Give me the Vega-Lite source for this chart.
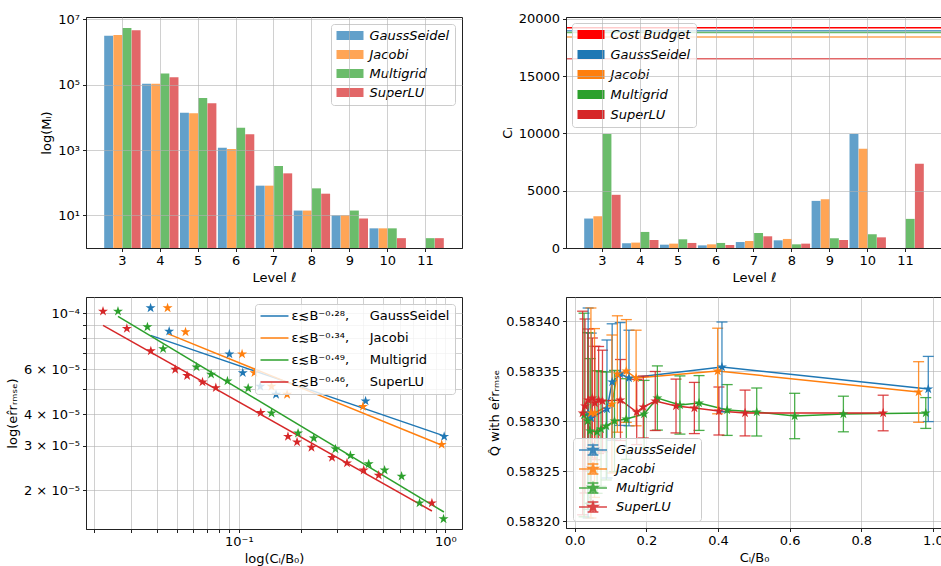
{
  "$schema": "https://vega.github.io/schema/vega-lite/v6.json",
  "padding": {"left": 5, "top": 12, "right": 0, "bottom": 0},
  "columns": 2,
  "spacing": {"row": 49, "column": 104},
  "bounds": "flush",
  "resolve": {"scale": {"color": "independent"}, "legend": {"color": "independent"}},
  "datasets": {
    "levels": [
      {"level": 3, "method": "GaussSeidel", "samples": 3160000, "cost": 2570},
      {"level": 3, "method": "Jacobi", "samples": 3300000, "cost": 2770},
      {"level": 3, "method": "Multigrid", "samples": 5400000, "cost": 9940},
      {"level": 3, "method": "SuperLU", "samples": 4600000, "cost": 4640},
      {"level": 4, "method": "GaussSeidel", "samples": 107000, "cost": 410},
      {"level": 4, "method": "Jacobi", "samples": 107000, "cost": 470},
      {"level": 4, "method": "Multigrid", "samples": 220000, "cost": 1400},
      {"level": 4, "method": "SuperLU", "samples": 168000, "cost": 700},
      {"level": 5, "method": "GaussSeidel", "samples": 13900, "cost": 290},
      {"level": 5, "method": "Jacobi", "samples": 13300, "cost": 380},
      {"level": 5, "method": "Multigrid", "samples": 39000, "cost": 760},
      {"level": 5, "method": "SuperLU", "samples": 27000, "cost": 440},
      {"level": 6, "method": "GaussSeidel", "samples": 1170, "cost": 230},
      {"level": 6, "method": "Jacobi", "samples": 1070, "cost": 320},
      {"level": 6, "method": "Multigrid", "samples": 4830, "cost": 440},
      {"level": 6, "method": "SuperLU", "samples": 3020, "cost": 260},
      {"level": 7, "method": "GaussSeidel", "samples": 81, "cost": 520},
      {"level": 7, "method": "Jacobi", "samples": 81, "cost": 610},
      {"level": 7, "method": "Multigrid", "samples": 324, "cost": 1310},
      {"level": 7, "method": "SuperLU", "samples": 193, "cost": 1020},
      {"level": 8, "method": "GaussSeidel", "samples": 14, "cost": 670},
      {"level": 8, "method": "Jacobi", "samples": 14, "cost": 790},
      {"level": 8, "method": "Multigrid", "samples": 67, "cost": 320},
      {"level": 8, "method": "SuperLU", "samples": 46, "cost": 380},
      {"level": 9, "method": "GaussSeidel", "samples": 10, "cost": 4110},
      {"level": 9, "method": "Jacobi", "samples": 10, "cost": 4260},
      {"level": 9, "method": "Multigrid", "samples": 14, "cost": 850},
      {"level": 9, "method": "SuperLU", "samples": 8, "cost": 700},
      {"level": 10, "method": "GaussSeidel", "samples": 4, "cost": 9940},
      {"level": 10, "method": "Jacobi", "samples": 4, "cost": 8660},
      {"level": 10, "method": "Multigrid", "samples": 4, "cost": 1200},
      {"level": 10, "method": "SuperLU", "samples": 2, "cost": 930},
      {"level": 11, "method": "Multigrid", "samples": 2, "cost": 2540},
      {"level": 11, "method": "SuperLU", "samples": 2, "cost": 7350}
    ],
    "totals": [
      {"method": "Cost Budget", "total": 19210},
      {"method": "GaussSeidel", "total": 18950},
      {"method": "Multigrid", "total": 18800},
      {"method": "Jacobi", "total": 18400},
      {"method": "SuperLU", "total": 16500}
    ],
    "runs": [
      {"method": "GaussSeidel", "cost": 0.0374, "err": 0.000105, "q": 0.583308},
      {"method": "GaussSeidel", "cost": 0.046, "err": 0.0000849, "q": 0.583303},
      {"method": "GaussSeidel", "cost": 0.09, "err": 0.000069, "q": 0.583312},
      {"method": "GaussSeidel", "cost": 0.1045, "err": 0.0000582, "q": 0.583339},
      {"method": "GaussSeidel", "cost": 0.127, "err": 0.0000514, "q": 0.583347},
      {"method": "GaussSeidel", "cost": 0.1514, "err": 0.0000478, "q": 0.583343},
      {"method": "GaussSeidel", "cost": 0.411, "err": 0.000045, "q": 0.583354},
      {"method": "GaussSeidel", "cost": 0.987, "err": 0.0000326, "q": 0.583332},
      {"method": "Jacobi", "cost": 0.0452, "err": 0.000105, "q": 0.583308},
      {"method": "Jacobi", "cost": 0.0552, "err": 0.0000844, "q": 0.583308},
      {"method": "Jacobi", "cost": 0.1037, "err": 0.000069, "q": 0.583317},
      {"method": "Jacobi", "cost": 0.119, "err": 0.0000582, "q": 0.583347},
      {"method": "Jacobi", "cost": 0.144, "err": 0.0000514, "q": 0.58335},
      {"method": "Jacobi", "cost": 0.1713, "err": 0.0000478, "q": 0.583343},
      {"method": "Jacobi", "cost": 0.399, "err": 0.0000428, "q": 0.58335},
      {"method": "Jacobi", "cost": 0.96, "err": 0.0000303, "q": 0.583329},
      {"method": "Multigrid", "cost": 0.026, "err": 0.0001018, "q": 0.583306},
      {"method": "Multigrid", "cost": 0.0361, "err": 0.0000883, "q": 0.5833},
      {"method": "Multigrid", "cost": 0.043, "err": 0.0000724, "q": 0.58329},
      {"method": "Multigrid", "cost": 0.0624, "err": 0.0000613, "q": 0.583289},
      {"method": "Multigrid", "cost": 0.0734, "err": 0.0000574, "q": 0.583292},
      {"method": "Multigrid", "cost": 0.0881, "err": 0.000054, "q": 0.583295},
      {"method": "Multigrid", "cost": 0.111, "err": 0.0000506, "q": 0.5833},
      {"method": "Multigrid", "cost": 0.144, "err": 0.0000403, "q": 0.583302},
      {"method": "Multigrid", "cost": 0.1936, "err": 0.0000336, "q": 0.583307},
      {"method": "Multigrid", "cost": 0.2307, "err": 0.0000321, "q": 0.583323},
      {"method": "Multigrid", "cost": 0.2937, "err": 0.0000291, "q": 0.583316},
      {"method": "Multigrid", "cost": 0.347, "err": 0.0000274, "q": 0.583318},
      {"method": "Multigrid", "cost": 0.4256, "err": 0.0000254, "q": 0.583311},
      {"method": "Multigrid", "cost": 0.508, "err": 0.000024, "q": 0.583309},
      {"method": "Multigrid", "cost": 0.614, "err": 0.0000227, "q": 0.583305},
      {"method": "Multigrid", "cost": 0.75, "err": 0.0000178, "q": 0.583307},
      {"method": "Multigrid", "cost": 0.98, "err": 0.0000154, "q": 0.583308},
      {"method": "SuperLU", "cost": 0.022, "err": 0.0001018, "q": 0.583308},
      {"method": "SuperLU", "cost": 0.0287, "err": 0.000087, "q": 0.583315},
      {"method": "SuperLU", "cost": 0.0375, "err": 0.000071, "q": 0.583321},
      {"method": "SuperLU", "cost": 0.0492, "err": 0.00006, "q": 0.583323},
      {"method": "SuperLU", "cost": 0.0562, "err": 0.0000567, "q": 0.583318},
      {"method": "SuperLU", "cost": 0.0667, "err": 0.0000535, "q": 0.583321},
      {"method": "SuperLU", "cost": 0.0774, "err": 0.0000508, "q": 0.58332},
      {"method": "SuperLU", "cost": 0.1277, "err": 0.0000405, "q": 0.583321},
      {"method": "SuperLU", "cost": 0.173, "err": 0.0000326, "q": 0.583309},
      {"method": "SuperLU", "cost": 0.1914, "err": 0.000031, "q": 0.583314},
      {"method": "SuperLU", "cost": 0.2248, "err": 0.0000295, "q": 0.58332},
      {"method": "SuperLU", "cost": 0.2827, "err": 0.0000269, "q": 0.583315},
      {"method": "SuperLU", "cost": 0.334, "err": 0.0000256, "q": 0.583313},
      {"method": "SuperLU", "cost": 0.4025, "err": 0.000024, "q": 0.58331},
      {"method": "SuperLU", "cost": 0.4755, "err": 0.0000229, "q": 0.583308},
      {"method": "SuperLU", "cost": 0.861, "err": 0.0000178, "q": 0.583308}
    ],
    "fits": [
      {"method": "GaussSeidel", "cost": 0.0374, "err": 0.0000818},
      {"method": "GaussSeidel", "cost": 0.993, "err": 0.0000327},
      {"method": "Jacobi", "cost": 0.0452, "err": 0.0000831},
      {"method": "Jacobi", "cost": 0.963, "err": 0.0000301},
      {"method": "Multigrid", "cost": 0.026, "err": 0.0000973},
      {"method": "Multigrid", "cost": 0.984, "err": 0.0000164},
      {"method": "SuperLU", "cost": 0.022, "err": 0.0000896},
      {"method": "SuperLU", "cost": 0.861, "err": 0.00001655}
    ]
  },
  "concat": [
    {
      "width": 376,
      "height": 231,
      "data": {"name": "levels"},
      "mark": {"type": "bar", "opacity": 0.7},
      "encoding": {
        "x": {
          "field": "level", "type": "ordinal",
          "scale": {"paddingInner": 0.04, "paddingOuter": 0.48},
          "axis": {"title": "Level ℓ", "labelAngle": 0, "grid": true, "bandPosition": 0.5, "zindex": 1}
        },
        "xOffset": {"field": "method", "type": "nominal", "scale": {"paddingInner": 0.03}},
        "y": {
          "field": "samples", "type": "quantitative",
          "scale": {"type": "log", "domain": [1, 11800000], "nice": false},
          "axis": {
            "title": "log(Mₗ)", "zindex": 1,
            "values": [10, 1000, 100000, 10000000],
            "labelExpr": "datum.value == 10 ? '10¹' : datum.value == 1000 ? '10³' : datum.value == 100000 ? '10⁵' : '10⁷'"
          }
        },
        "y2": {"datum": 1},
        "color": {
          "field": "method", "type": "nominal",
          "scale": {"domain": ["GaussSeidel", "Jacobi", "Multigrid", "SuperLU"], "range": ["#1f77b4", "#ff7f0e", "#2ca02c", "#d62728"]},
          "legend": {
            "title": null, "orient": "top-right", "offset": 7, "padding": 5,
            "symbolType": "M-2.25,-0.75H2.25V0.75H-2.25Z", "symbolSize": 144, "symbolOpacity": 0.7,
            "symbolStrokeWidth": 0, "symbolOffset": 7.5,
            "labelFontStyle": "italic", "rowPadding": 5, "labelOffset": 13
          }
        }
      }
    },
    {
      "width": 376,
      "height": 231,
      "layer": [
        {
          "data": {"name": "levels"},
          "mark": {"type": "bar", "opacity": 0.7},
          "encoding": {
            "x": {
              "field": "level", "type": "ordinal",
              "scale": {"paddingInner": 0.04, "paddingOuter": 0.48},
              "axis": {"title": "Level ℓ", "labelAngle": 0, "grid": true, "bandPosition": 0.5, "zindex": 1}
            },
            "xOffset": {"field": "method", "type": "nominal", "scale": {"paddingInner": 0.03}},
            "y": {
              "field": "cost", "type": "quantitative",
              "scale": {"domain": [0, 20150], "nice": false},
              "axis": {"title": "Cₗ", "values": [0, 5000, 10000, 15000, 20000], "format": "d", "zindex": 1}
            },
            "color": {
              "field": "method", "type": "nominal",
              "scale": {"domain": ["Cost Budget", "GaussSeidel", "Jacobi", "Multigrid", "SuperLU"], "range": ["#ff0000", "#1f77b4", "#ff7f0e", "#2ca02c", "#d62728"]},
              "legend": {
                "title": null, "orient": "top-left", "offset": 6, "padding": 5,
                "symbolType": "M-2.25,-0.75H2.25V0.75H-2.25Z", "symbolSize": 144, "symbolOffset": 7.5,
                "symbolOpacity": 0.7, "symbolStrokeWidth": 0,
                "labelFontStyle": "italic", "rowPadding": 6, "labelOffset": 13
              }
            }
          }
        },
        {
          "data": {"name": "totals"},
          "mark": {"type": "rule", "strokeWidth": 1.5},
          "encoding": {
            "y": {"field": "total", "type": "quantitative", "axis": {"title": "Cₗ"}},
            "color": {"field": "method", "type": "nominal"},
            "opacity": {"condition": {"test": "datum.method === 'Cost Budget'", "value": 1}, "value": 0.7}
          }
        }
      ]
    },
    {
      "width": 376,
      "height": 232,
      "layer": [
        {
          "data": {"name": "fits"},
          "mark": {"type": "line", "strokeWidth": 1.5, "clip": true},
          "encoding": {
            "x": {
              "field": "cost", "type": "quantitative",
              "scale": {"type": "log", "domain": [0.0182, 1.204], "nice": false},
              "axis": {
                "title": "log(Cₗ/B₀)", "grid": true,
                "values": [0.02, 0.03, 0.04, 0.05, 0.06, 0.07, 0.08, 0.09, 0.1, 0.2, 0.3, 0.4, 0.5, 0.6, 0.7, 0.8, 0.9, 1],
                "labelExpr": "datum.value == 0.1 ? '10⁻¹' : datum.value == 1 ? '10⁰' : ''"
              }
            },
            "y": {
              "field": "err", "type": "quantitative",
              "scale": {"type": "log", "domain": [0.00001405, 0.000116], "nice": false},
              "axis": {
                "title": "log(er̂rᵣₘₛₑ)", "grid": true,
                "values": [0.00002, 0.00003, 0.00004, 0.00005, 0.00006, 0.00007, 0.00008, 0.00009, 0.0001],
                "labelExpr": "datum.value == 0.0001 ? '10⁻⁴' : datum.value == 0.00006 ? '6 × 10⁻⁵' : datum.value == 0.00004 ? '4 × 10⁻⁵' : datum.value == 0.00003 ? '3 × 10⁻⁵' : datum.value == 0.00002 ? '2 × 10⁻⁵' : ''"
              }
            },
            "color": {
              "field": "method", "type": "nominal",
              "scale": {"domain": ["GaussSeidel", "Jacobi", "Multigrid", "SuperLU"], "range": ["#1f77b4", "#ff7f0e", "#2ca02c", "#d62728"]},
              "legend": {
                "title": null, "orient": "top-right", "offset": 7, "padding": 5,
                "symbolType": "M-2.33,0H2.33", "symbolSize": 144, "symbolStrokeWidth": 1.5, "symbolOffset": 7.5,
                "rowPadding": 8, "labelOffset": 10,
                "labelExpr": "datum.label == 'GaussSeidel' ? 'ε≲B⁻⁰·²⁸,\u00a0\u00a0\u00a0\u00a0\u00a0GaussSeidel' : datum.label == 'Jacobi' ? 'ε≲B⁻⁰·³⁴,\u00a0\u00a0\u00a0\u00a0\u00a0Jacobi' : datum.label == 'Multigrid' ? 'ε≲B⁻⁰·⁴⁹,\u00a0\u00a0\u00a0\u00a0\u00a0Multigrid' : 'ε≲B⁻⁰·⁴⁶,\u00a0\u00a0\u00a0\u00a0\u00a0SuperLU'"
              }
            }
          }
        },
        {
          "data": {"name": "runs"},
          "mark": {
            "type": "point", "filled": true, "opacity": 1, "size": 110, "clip": true,
            "shape": "M0,-1L0.2245,-0.309L0.951,-0.309L0.363,0.118L0.588,0.809L0,0.382L-0.588,0.809L-0.363,0.118L-0.951,-0.309L-0.2245,-0.309Z"
          },
          "encoding": {
            "x": {"field": "cost", "type": "quantitative"},
            "y": {"field": "err", "type": "quantitative"},
            "color": {"field": "method", "type": "nominal"}
          }
        }
      ]
    },
    {
      "width": 376,
      "height": 231,
      "layer": [
        {
          "data": {"name": "runs"},
          "mark": {"type": "line", "strokeWidth": 1.5, "clip": true},
          "encoding": {
            "x": {
              "field": "cost", "type": "quantitative",
              "scale": {"domain": [-0.0244, 1.0253], "nice": false, "zero": false},
              "axis": {"title": "Cₗ/B₀", "values": [0, 0.2, 0.4, 0.6, 0.8, 1], "format": ".1f", "grid": true}
            },
            "y": {
              "field": "q", "type": "quantitative",
              "scale": {"domain": [0.583193, 0.583424], "nice": false, "zero": false},
              "axis": {"title": "Q̂  with  er̂rᵣₘₛₑ", "values": [0.5832, 0.58325, 0.5833, 0.58335, 0.5834], "format": ".5f", "grid": true}
            },
            "color": {
              "field": "method", "type": "nominal",
              "scale": {"domain": ["GaussSeidel", "Jacobi", "Multigrid", "SuperLU"], "range": ["#1f77b4", "#ff7f0e", "#2ca02c", "#d62728"]},
              "legend": {
                "title": null, "orient": "bottom-left", "offset": 7, "padding": 5,
                "symbolType": "M0,-0.833L0.187,-0.257L0.792,-0.257L0.302,0.098L0.49,0.674L0,0.318L-0.49,0.674L-0.302,0.098L-0.792,-0.257L-0.187,-0.257ZM-2.33,0H2.33M0,-0.85V0.85M-0.9,-0.85H0.9M-0.9,0.85H0.9",
                "symbolSize": 144, "symbolStrokeWidth": 1.5, "symbolOffset": 8,
                "labelFontStyle": "italic", "rowPadding": 1, "labelOffset": 16
              }
            }
          }
        },
        {
          "data": {"name": "runs"},
          "mark": {"type": "errorbar", "ticks": {"size": 11, "thickness": 1.3}, "rule": {"strokeWidth": 1.3}, "clip": true, "opacity": 0.85},
          "encoding": {
            "x": {"field": "cost", "type": "quantitative"},
            "y": {"field": "q", "type": "quantitative", "title": "Q̂  with  er̂rᵣₘₛₑ"},
            "yError": {"field": "err"},
            "color": {"field": "method", "type": "nominal"}
          }
        },
        {
          "data": {"name": "runs"},
          "mark": {
            "type": "point", "filled": true, "opacity": 1, "size": 110, "clip": true,
            "shape": "M0,-1L0.2245,-0.309L0.951,-0.309L0.363,0.118L0.588,0.809L0,0.382L-0.588,0.809L-0.363,0.118L-0.951,-0.309L-0.2245,-0.309Z"
          },
          "encoding": {
            "x": {"field": "cost", "type": "quantitative"},
            "y": {"field": "q", "type": "quantitative"},
            "color": {"field": "method", "type": "nominal"}
          }
        }
      ]
    }
  ],
  "config": {
    "font": "DejaVu Sans",
    "view": {"stroke": "#222222", "strokeWidth": 1},
    "axis": {
      "labelFontSize": 13, "titleFontSize": 13, "titleFontWeight": "normal",
      "labelColor": "#000000", "titleColor": "#000000",
      "tickColor": "#222222", "domainColor": "#222222", "tickSize": 3.5, "labelPadding": 3,
      "titlePadding": 4, "gridColor": "#b0b0b0", "gridOpacity": 0.6, "gridWidth": 1
    },
    "legend": {
      "labelFontSize": 13, "labelColor": "#000000",
      "fillColor": "rgba(255,255,255,0.8)", "strokeColor": "#cccccc", "cornerRadius": 3, "padding": 5
    }
  }
}
